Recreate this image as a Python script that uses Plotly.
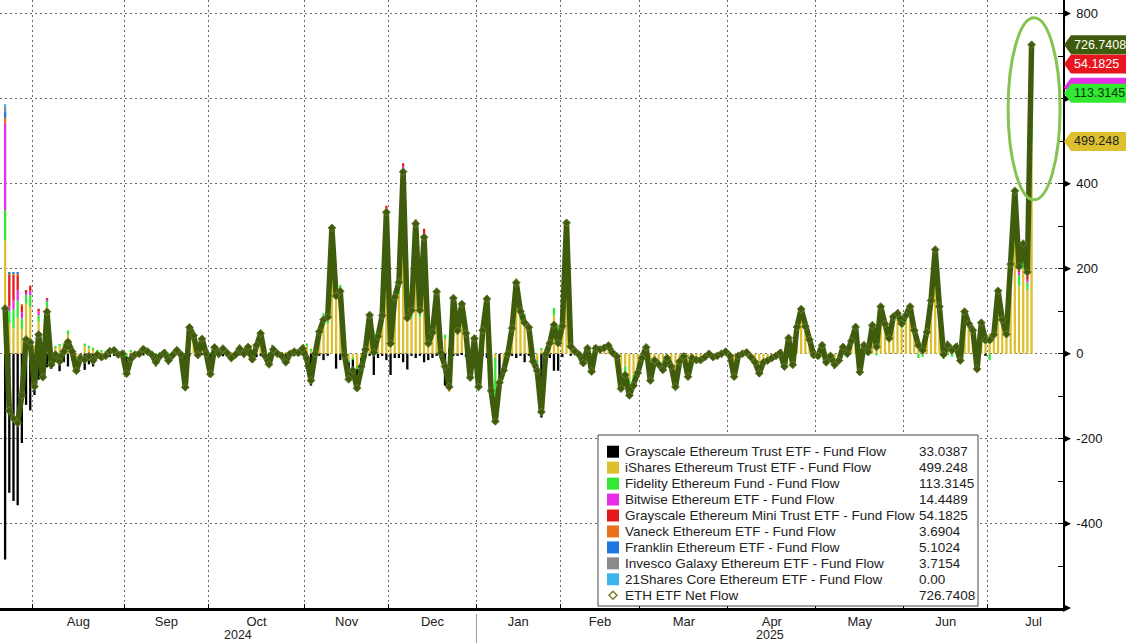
import pandas as pd
import plotly.graph_objects as go

# ---------------- calendar (US trading days) ----------------
HOLIDAYS = ["2024-09-02", "2024-11-28", "2024-12-25", "2025-01-01", "2025-01-09",
            "2025-01-20", "2025-02-17", "2025-04-18", "2025-05-26", "2025-06-19", "2025-07-04"]
DATA_START, DATA_END, AXIS_END = "2024-07-23", "2025-07-16", "2025-07-31"
MONTH_LABELS = ["Aug", "Sep", "Oct", "Nov", "Dec", "Jan", "Feb", "Mar", "Apr", "May", "Jun", "Jul"]
YEAR_LABELS = ["2024", "2025"]
Y_TICKS = [-400, -200, 0, 200, 400, 600, 800]
Y_TICKTEXT = ["-400", "-200", "0", "200", "400", "", "800"]   # 600 is hidden behind the value tags

# ---------------- data (USD mn, daily) ----------------
net_flow = [
    106.6, -134, -152, -163, -98, 33.7, 26.7,                                   # Jul 24
    -77, 45, -55, 99, -26, -2, -18, 5, 28, 5, -40, -10, -14, -6, -16, -2, -8, -5, 6, 8, -2, 0,  # Aug
    -47, -12, -2, 0, 11, 5, -2, -20, -5, 2, -16, -3, 8, -2, -79, 62, 43, -3, 35, 0,   # Sep
    -48, 15, 0, 12, 2, -10, -2, 12, 0, 16, -13, 20, 48, -5, -25, 10, 0, -5, -20, 0, 5, 2, 12,  # Oct
    -11, -63, 0, 52, 80, 86, 296, 136, 147, -3, -60, -39, -81, -30, 10, 91, 3, 41, 90, 333,  # Nov
    24, 133, 168, 428, 84, 102, 306, 102, 274, 24, 50, 146, 2, -30, -78, 131, 54, 117, 48, -56, 36,  # Dec
    -78, 55, 129, -87, -159, -68, -39, 0, 60, 167, 100, 73, 62, -18, -40, -137, -2, 25, 68, 25,  # Jan 25
    65, 308, 17, 5, -2, -22, 13, -42, 13, 10, 14, 19, 2, -6, -82, -50, -98, -75, -45,  # Feb
    -10, 15, -63, -15, -25, -38, -10, -30, -78, -18, -6, -54, -10, -15, -15, -8, 0, -8, -5, 0, 5,  # Mar
    -5, -54, -5, 0, 3, -8, -20, -46, -20, -16, -10, -5, 2, -30, 37, -26, 63, 105, 64, 33, -3,  # Apr
    -5, 20, -20, -5, -26, -16, 16, 0, 30, 63, -43, 20, 4, 67, 16, 111, 70, 36, 87, 95, 71,  # May
    90, 111, 55, 20, 8, 51, 125, 245, 111, -2, 20, 8, 16, -16, 99, 71, 55, -36, 73, 32,  # Jun
    32, 45, 148, 80, 46, 211, 383, 205, 259, 192, 726.7408,                      # Jul
]
grayscale_ethe = [
    -484.1, -326.9, -346.2, -356.3, -210.0, -120.3, -133.3,
    -78, -61, -47, -32, -28, -20, -41, -20, -30, -15, -25, -10, -38, -25, -30, -10, -15, -10, -8, -5, -5, -3,
    -40, -20, -5, -6, -4, -3, -8, -18, -6, -3, -14, -6, -2, -4, -80, -6, 0, -8, -3, -5,
    -50, -4, -3, -6, -6, -12, -5, -4, -3, -4, -20, -8, -5, -12, -28, -4, -5, -8, -22, -4, -6, -5, -4,
    -35, -75, -10, -5, -15, -5, 0, -35, -15, -20, -40, -25, -45, -20, -10, -5, -50, -10, -5, -15,
    -50, -10, -10, -20, -37, -5, -10, -5, -20, -15, -10, -5, -10, -75, 10, -5, -5, -3, -8, -30, -5,
    -20, -5, -10, -20, -5, -68, -10, -5, -5, -10, -5, -20, -5, -10, -15, -150, -5, -10, -40, -40,
    -8, 0, -5, 0, -3, -5, 0, -10, 0, 0, 0, 0, 0, -3, -10, -5, -10, -5, -5,
    0, 20, 0, 0, 0, -5, 0, 0, -5, 0, 0, -3, 0, 0, 0, 0, 0, 0, 0, 0, 0,
    0, -5, 0, 0, 0, 0, 0, -5, 0, 0, 0, 0, 0, -3, 0, 0, 0, 0, 0, 0, 0,
    0, 0, 0, 0, 0, 0, 0, 0, 0, 0, 0, 0, 0, 0, 0, 0, 0, 0, 0, 0, 0,
    0, 0, 0, 0, 0, 0, 0, 0, 0, 0, 0, 0, 0, -12, 0, 0, 8, -20, 10, -5,
    0, 0, 0, 0, 0, 0, 0, 0, 0, 0, 33.0387,
]
ishares_etha = [
    266.5, 72, 60, 85, 58, 118, 110,
    20, 75, -10, 110, 10, 15, 18, 20, 45, 15, -10, 0, 18, 12, 10, 6, 5, 3, 10, 8, 2, 2,
    0, 6, 2, 4, 10, 6, 5, 0, 0, 4, 0, 3, 8, 2, 0, 59, 36, 4, 32, 4,
    0, 15, 2, 14, 6, 2, 2, 12, 2, 15, 5, 22, 38, 5, 2, 10, 4, 2, 2, 3, 8, 5, 12,
    18, 8, 8, 45, 70, 70, 250, 140, 130, 12, -15, -12, -30, -10, 15, 75, 35, 40, 70, 250,
    55, 110, 140, 350, 95, 85, 245, 85, 220, 30, 45, 115, 10, 35, -90, 110, 48, 95, 45, -20, 32,
    -20, 45, 110, -30, -10, 0, -25, 5, 50, 140, 80, 80, 55, 0, -15, 10, 5, 28, 90, 55,
    55, 277, 18, 4, 2, -15, 11, -25, 10, 8, 12, 15, 2, 0, -50, -30, -60, -50, -30,
    -5, -3, -40, -8, -15, -20, -5, -20, -45, -10, -3, -30, -5, -10, -10, -5, 2, -5, -4, 0, 4,
    -3, -32, -3, 0, 2, -5, -12, -25, -12, -10, -6, -3, 2, -18, 30, -15, 55, 88, 54, 28, -2,
    0, 16, -5, -2, -10, -8, 14, 2, 28, 55, -20, 18, 8, 55, 20, 95, 60, 30, 75, 80, 60,
    75, 95, 50, 30, 15, 45, 110, 215, 100, 10, 22, 15, 12, -4, 90, 60, 40, 0, 55, 33,
    47, 40, 125, 70, 40, 170, 300, 160, 200, 150, 499.248,
]
fidelity_feth = [
    71.3, 28, 45, 40, 25, 20, 28,
    -19, 16, 2, 16, -8, 3, 5, 5, 10, 3, -5, 0, 6, 7, 4, 2, 2, 2, 4, 5, 1, 1,
    -7, 2, 1, 2, 5, 2, 1, -2, 1, 1, -2, 0, 2, 0, 1, 9, 7, 1, 6, 1,
    2, 4, 1, 4, 2, 0, 1, 4, 1, 5, 2, 6, 8, 2, 1, 4, 1, 1, 0, 1, 3, 2, 4,
    6, 4, 2, 12, 25, 21, 46, 31, 32, 5, -5, -2, -6, 0, 5, 21, 18, 11, 22, 63,
    15, 28, 34, 80, 20, 20, 55, 18, 54, 7, 12, 32, 2, 10, 2, 22, 9, 22, 8, -6, 7,
    -38, 15, 29, -37, -144, 0, -4, 0, 15, 37, 25, 13, 12, -8, -10, 3, -2, 7, 18, 10,
    18, 26, 4, 1, -1, -2, 2, -7, 3, 2, 2, 4, 0, -3, -22, -15, -28, -20, -10,
    -5, -2, -23, -7, -10, -13, -5, -10, -28, -8, -3, -21, -5, -5, -5, -3, -2, -3, -1, 0, 1,
    -2, -17, -2, 0, 1, -3, -8, -16, -8, -6, -4, -2, 0, -9, 7, -11, 8, 17, 10, 5, -1,
    -5, 4, -15, -3, -16, -8, 2, -2, 2, 8, -23, 2, -4, 12, -4, 16, 10, 6, 12, 15, 11,
    15, 16, 5, -10, -7, 6, 15, 30, 11, -12, -2, -7, 4, 0, 9, 11, 7, -16, 8, 4,
    -15, 5, 18, 8, 5, 30, 55, 25, 30, 18, 113.3145,
]
# smaller funds: only the days with visible flows (all other days 0)
bitwise_ethw = {"2024-07-23": 204.2, "2024-07-24": 11, "2024-07-25": 20, "2024-07-26": 25,
                "2024-07-29": 15, "2024-07-30": 5, "2024-07-31": 10, "2024-08-02": 8, "2024-08-06": 3,
                "2024-11-29": 15, "2024-12-02": 4, "2024-12-03": 5, "2024-12-04": 4, "2024-12-05": 10,
                "2024-12-06": 6, "2024-12-11": 4, "2025-02-04": 5, "2025-07-03": 5, "2025-07-07": 2,
                "2025-07-09": 8, "2025-07-10": 10, "2025-07-11": 7, "2025-07-14": 10, "2025-07-15": 6,
                "2025-07-16": 14.4489}
grayscale_mini = {"2024-07-24": 75, "2024-07-25": 60, "2024-07-26": 35, "2024-07-29": 15,
                  "2024-07-30": 7, "2024-07-31": 12, "2024-08-02": 7, "2024-08-06": 2, "2024-10-17": 7,
                  "2024-11-27": 3, "2024-11-29": 20, "2024-12-05": 8, "2024-12-10": 16, "2024-12-12": 20,
                  "2025-07-09": 6, "2025-07-10": 12, "2025-07-11": 10, "2025-07-14": 15, "2025-07-15": 15,
                  "2025-07-16": 54.1825}
vaneck_ethv = {"2024-07-23": 12.7, "2024-07-24": 3, "2024-07-25": 3, "2024-07-26": 3,
               "2024-07-29": 2, "2025-07-16": 3.6904}
franklin_ezet = {"2024-07-23": 15.7, "2024-07-24": 2, "2024-07-25": 2, "2024-07-26": 2,
                 "2025-07-16": 5.1024}
invesco_qeth = {"2024-07-23": 10.2, "2025-07-16": 3.7154}
shares21_ceth = {"2024-07-23": 6.2, "2025-07-16": 0.0}

# ---------------- build ----------------
dates = pd.bdate_range(DATA_START, DATA_END, freq="C", holidays=HOLIDAYS)
cal = pd.bdate_range(DATA_START, AXIS_END, freq="C", holidays=HOLIDAYS)
n = len(dates)
for arr in (net_flow, grayscale_ethe, ishares_etha, fidelity_feth):
    assert len(arr) == n, (len(arr), n)
ds = [d.strftime("%Y-%m-%d") for d in dates]
def full(dct):
    return [dct.get(s, 0.0) for s in ds]
xs = list(range(n))

series = [  # stacking order (ETHE drawn last so it sits outside the stack)
    ("iShares Ethereum Trust ETF - Fund Flow", ishares_etha, "#dcc030"),
    ("Fidelity Ethereum Fund - Fund Flow", fidelity_feth, "#33e833"),
    ("Bitwise Ethereum ETF - Fund Flow", full(bitwise_ethw), "#e62ee6"),
    ("Grayscale Ethereum Mini Trust ETF - Fund Flow", full(grayscale_mini), "#e31a1c"),
    ("Vaneck Ethereum ETF - Fund Flow", full(vaneck_ethv), "#e8701e"),
    ("Franklin Ethereum ETF - Fund Flow", full(franklin_ezet), "#1e78e0"),
    ("Invesco Galaxy Ethereum ETF - Fund Flow", full(invesco_qeth), "#8a8a8a"),
    ("21Shares Core Ethereum ETF - Fund Flow", full(shares21_ceth), "#3cb4ec"),
    ("Grayscale Ethereum Trust ETF - Fund Flow", grayscale_ethe, "#000000"),
]
LINE_C = "#3f5c0c"

fig = go.Figure()
for name, vals, col in series:
    fig.add_trace(go.Bar(x=xs, y=vals, name=name, marker=dict(color=col, line_width=0),
                         showlegend=False))
fig.add_trace(go.Scatter(x=xs, y=net_flow, name="ETH ETF Net Flow", mode="lines+markers",
                         line=dict(color=LINE_C, width=5.5),
                         marker=dict(symbol="diamond", size=6, color=LINE_C,
                                     line=dict(color="#6b7a35", width=1)),
                         showlegend=False))

# month ticks from calendar
mi = pd.Series(range(len(cal)), index=cal)
groups = mi.groupby([cal.year, cal.month])
bounds, centers = [], []
for (yy, mm), g in groups:
    first, cnt = g.iloc[0], len(g)
    if (yy, mm) == (2024, 7):
        continue
    bounds.append(first - 0.5)
    centers.append(first - 0.5 + cnt / 2)
XMIN, XMAX = -1.22, 252.5
YMIN, YMAX = -598, 832
jan_b = bounds[5]

PW, PH, ML, MR, MT, MB = 1126, 643, 0, 63, 0, 35
W, H = PW - ML - MR, PH - MT - MB
def px(x):
    return x / W
def py(y):
    return (H - y) / H

grid_c = "#6a6a6a"
AX_FONT = "Liberation Sans Narrow, Liberation Sans, Arial"
fig.update_layout(
    width=PW, height=PH, margin=dict(l=ML, r=MR, t=MT, b=MB),
    barmode="relative", bargap=0.45, plot_bgcolor="white", paper_bgcolor="white",
    showlegend=False, font=dict(family="Liberation Sans, Arial, sans-serif", size=13, color="#222"),
    xaxis=dict(range=[XMIN, XMAX], tickmode="array", tickvals=centers, ticktext=MONTH_LABELS,
               ticks="", showgrid=False, zeroline=False, showline=True, linecolor="black",
               linewidth=2.5, tickfont=dict(family=AX_FONT, size=13),
               minor=dict(tickmode="array", tickvals=bounds, ticks="inside", ticklen=4,
                          tickcolor="black", showgrid=True, gridcolor=grid_c, griddash="2px,3px",
                          gridwidth=1)),
    yaxis=dict(range=[YMIN, YMAX], side="right", tickmode="array", tickvals=Y_TICKS,
               ticktext=Y_TICKTEXT, showgrid=True,
               gridcolor=grid_c, griddash="2px,3px", gridwidth=1, zeroline=False, showline=True,
               linecolor="black", linewidth=1.5, ticks="outside", ticklen=9,
               tickcolor="rgba(0,0,0,0)", tickfont=dict(size=13, color="#111"),
               minor=dict(dtick=100, ticks="inside", ticklen=5, tickcolor="black", showgrid=False)),
)

def fmt(v):
    return "0.00" if v == 0 else str(v)

shapes, annos = [], []
# right axis arrow ticks
hy = 4 * (YMAX - YMIN) / H
for v in Y_TICKS:
    shapes.append(dict(type="path", xref="paper", yref="y", fillcolor="black", line_width=0,
                       path=f"M 1,{v - hy} L {1 + 8 / W},{v} L 1,{v + hy} Z"))
# x axis arrow at end
shapes.append(dict(type="path", xref="paper", yref="paper", fillcolor="black", line_width=0,
                   path=f"M 1,{4 / H} L {1 + 8 / W},0 L 1,{-4 / H} Z"))
# year separator
shapes.append(dict(type="line", xref="x", yref="paper", x0=jan_b, x1=jan_b, y0=-6 / H, y1=-35 / H,
                   line=dict(color="#999", width=1)))
for xc, lab in (((XMIN + jan_b) / 2, YEAR_LABELS[0]), ((jan_b + XMAX) / 2, YEAR_LABELS[1])):
    annos.append(dict(x=xc, y=-27 / H, xref="x", yref="paper", text=lab, showarrow=False,
                      yanchor="middle", xanchor="center", font=dict(family=AX_FONT, size=12.5)))

# highlight ellipse
shapes.append(dict(type="circle", xref="x", yref="y", x0=239.4, x1=251.8, y0=362, y1=790,
                   line=dict(color="#86c452", width=3), layer="above"))

# right side value tags (last day)
ethw_last = full(bitwise_ethw)[-1]
mini_last = full(grayscale_mini)[-1]
y_yel = ishares_etha[-1]
y_grn = y_yel + fidelity_feth[-1]
y_mag = y_grn + ethw_last
y_red = y_mag + mini_last
tags = [(y_yel, fmt(ishares_etha[-1]), "#dcc030", "#222"),
        (y_mag, None, "#e62ee6", "white"),
        (y_grn, fmt(fidelity_feth[-1]), "#33e833", "#0b3a0b"),
        (y_red, fmt(mini_last), "#e8141e", "white"),
        (net_flow[-1], fmt(net_flow[-1]), LINE_C, "white")]
th = 9.5 * (YMAX - YMIN) / H
for v, txt, bg, fc in tags:
    shapes.append(dict(type="path", xref="paper", yref="y", fillcolor=bg, line_width=0, layer="above",
                       path=(f"M {1 + 1 / W},{v} L {1 + 8 / W},{v + th} L {1 + 64 / W},{v + th} "
                             f"L {1 + 64 / W},{v - th} L {1 + 8 / W},{v - th} Z")))
    if txt:
        annos.append(dict(x=1 + 9 / W, y=v, xref="paper", yref="y", text=txt, showarrow=False,
                          xanchor="left", yanchor="middle", font=dict(size=12.5, color=fc)))

# legend box
shapes.append(dict(type="rect", xref="paper", yref="paper", x0=px(598), x1=px(978), y0=py(606),
                   y1=py(435), fillcolor="white", line=dict(color="#444", width=1), layer="above"))
legend_order = [series[8], series[0], series[1], series[2], series[3], series[4], series[5],
                series[6], series[7]]
for k, (name, vals, col) in enumerate(legend_order):
    yc = 451.7 + 15.95 * k
    shapes.append(dict(type="rect", xref="paper", yref="paper", x0=px(607), x1=px(619),
                       y0=py(yc + 6), y1=py(yc - 6), fillcolor=col, line_width=0, layer="above"))
    annos.append(dict(x=px(623), y=py(yc), xref="paper", yref="paper", text=name, showarrow=False,
                      xanchor="left", yanchor="middle", font=dict(size=13.5, color="#222")))
    annos.append(dict(x=px(917), y=py(yc), xref="paper", yref="paper", text=fmt(vals[-1]),
                      showarrow=False, xanchor="left", yanchor="middle",
                      font=dict(size=13.5, color="#222")))
yc = 451.7 + 15.95 * 9
shapes.append(dict(type="path", xref="paper", yref="paper", fillcolor="white", layer="above",
                   line=dict(color="#7d7a30", width=1.5),
                   path=(f"M {px(609)},{py(yc)} L {px(613)},{py(yc - 4)} L {px(617)},{py(yc)} "
                         f"L {px(613)},{py(yc + 4)} Z")))
annos.append(dict(x=px(623), y=py(yc), xref="paper", yref="paper", text="ETH ETF Net Flow",
                  showarrow=False, xanchor="left", yanchor="middle", font=dict(size=13.5, color="#222")))
annos.append(dict(x=px(917), y=py(yc), xref="paper", yref="paper", text=fmt(net_flow[-1]),
                  showarrow=False, xanchor="left", yanchor="middle", font=dict(size=13.5, color="#222")))

fig.update_layout(shapes=shapes, annotations=annos)
fig.write_html("out.html", config={"displayModeBar": False},
               post_script="document.body.style.margin='0';")
